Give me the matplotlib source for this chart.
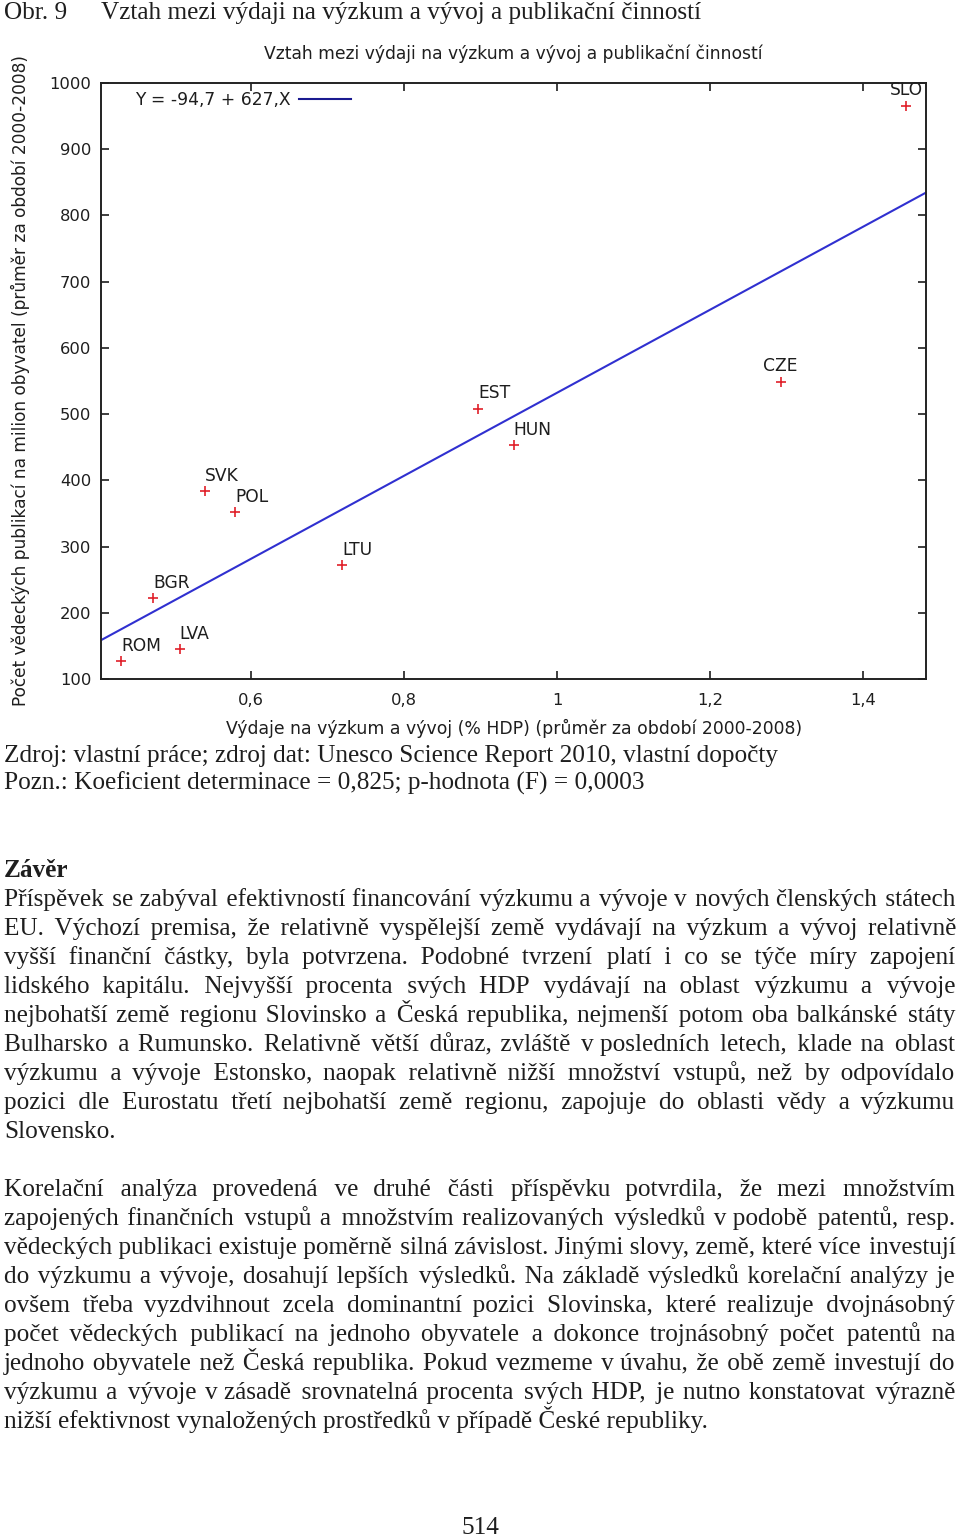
import numpy as np
import matplotlib
matplotlib.use('Agg')
import matplotlib.pyplot as plt
import matplotlib.transforms as mtransforms
from matplotlib.ticker import FixedLocator, FuncFormatter

W, H = 960, 1537

# data
countries = ['ROM', 'BGR', 'LVA', 'SVK', 'POL', 'LTU', 'EST', 'HUN', 'CZE', 'SLO']
rd_spend = [0.430, 0.472, 0.507, 0.540, 0.579, 0.719, 0.897, 0.943, 1.292, 1.456]
publications = [127, 222, 145, 384, 352, 272, 508, 453, 549, 966]
label_align = ['left', 'left', 'left', 'left', 'left', 'left', 'left', 'left', 'center', 'center']
intercept = -94.7
slope = 627.0
x_ticks = [0.6, 0.8, 1.0, 1.2, 1.4]
y_ticks = [100, 200, 300, 400, 500, 600, 700, 800, 900, 1000]

chart_title = 'Vztah mezi výdaji na výzkum a vývoj a publikační činností'
x_label = 'Výdaje na výzkum a vývoj (% HDP) (průměr za období 2000-2008)'
y_label = 'Počet vědeckých publikací na milion obyvatel (průměr za období 2000-2008)'

fig_no = 'Obr. 9'
fig_caption = 'Vztah mezi výdaji na výzkum a vývoj a publikační činností'
source = 'Zdroj: vlastní práce; zdroj dat: Unesco Science Report 2010, vlastní dopočty'
note = 'Pozn.: Koeficient determinace = 0,825; p-hodnota (F) = 0,0003'
heading = 'Závěr'
para1 = [
    'Příspěvek se zabýval efektivností financování výzkumu a vývoje v nových členských státech',
    'EU. Výchozí premisa, že relativně vyspělejší země vydávají na výzkum a vývoj relativně',
    'vyšší finanční částky, byla potvrzena. Podobné tvrzení platí i co se týče míry zapojení',
    'lidského kapitálu. Nejvyšší procenta svých HDP vydávají na oblast výzkumu a vývoje',
    'nejbohatší země regionu Slovinsko a Česká republika, nejmenší potom oba balkánské státy',
    'Bulharsko a Rumunsko. Relativně větší důraz, zvláště v\u00a0posledních letech, klade na oblast',
    'výzkumu a vývoje Estonsko, naopak relativně nižší množství vstupů, než by odpovídalo',
    'pozici dle Eurostatu třetí nejbohatší země regionu, zapojuje do oblasti vědy a výzkumu',
    'Slovensko.',
]
para2 = [
    'Korelační analýza provedená ve druhé části příspěvku potvrdila, že mezi množstvím',
    'zapojených finančních vstupů a množstvím realizovaných výsledků v\u00a0podobě patentů, resp.',
    'vědeckých publikaci existuje poměrně silná závislost. Jinými slovy, země, které více investují',
    'do výzkumu a vývoje, dosahují lepších výsledků. Na základě výsledků korelační analýzy je',
    'ovšem třeba vyzdvihnout zcela dominantní pozici Slovinska, které realizuje dvojnásobný',
    'počet vědeckých publikací na jednoho obyvatele a dokonce trojnásobný počet patentů na',
    'jednoho obyvatele než Česká republika. Pokud vezmeme v\u00a0úvahu, že obě země investují do',
    'výzkumu a vývoje v\u00a0zásadě srovnatelná procenta svých HDP, je nutno konstatovat výrazně',
    'nižší efektivnost vynaložených prostředků v\u00a0případě České republiky.',
]
page_no = '514'

fig = plt.figure(figsize=(W / 100, H / 100), dpi=100)
fig.patch.set_facecolor('white')
renderer = fig.canvas.get_renderer()
px = mtransforms.IdentityTransform()

SERIF = ['Liberation Serif', 'DejaVu Serif']
SANS = 'DejaVu Sans'
INK = '#1e1e1e'


def put(s, x, y, size, family=SERIF, **kw):
    kw.setdefault('ha', 'left')
    kw.setdefault('va', 'baseline')
    return fig.text(x, H - y, s, transform=px, fontsize=size, family=family,
                    color=INK, **kw)


def text_w(s, size, family):
    t = fig.text(0, 0, s, fontsize=size, family=family)
    w = t.get_window_extent(renderer).width
    t.remove()
    return w


def fit_size(s, target, family, horizontal=True):
    t = fig.text(0, 0, s, fontsize=10, family=family)
    bb = t.get_window_extent(renderer)
    t.remove()
    return 10 * target / (bb.width if horizontal else bb.height)


# ---- chart ----
ax = fig.add_axes([101 / W, 1 - 679 / H, 825 / W, 596 / H])
ax.set_xlim(0.404, 1.482)
ax.set_ylim(100, 1000)

eq = ('Y = %.1f + %.0f,X' % (intercept, slope)).replace('.', ',')
ax.axline((0, intercept), slope=slope, color='#3030d0', lw=1.5, label=eq)
ax.plot(rd_spend, publications, ls='none', marker='+', ms=7, mew=1.2, color='#e0202a')
for name, xv, yv, al in zip(countries, rd_spend, publications, label_align):
    ax.annotate(name, (xv, yv), xytext=(0, 7.5), textcoords='offset points',
                ha=al, va='baseline', fontsize=12.3, family=SANS, color=INK)

ax.xaxis.set_major_locator(FixedLocator(x_ticks))
ax.yaxis.set_major_locator(FixedLocator(y_ticks))
comma = FuncFormatter(lambda v, p: ('%g' % v).replace('.', ','))
ax.xaxis.set_major_formatter(comma)
ax.yaxis.set_major_formatter(comma)
ax.tick_params(direction='in', top=True, right=True, length=6, width=1.2,
               labelsize=11.8, colors=INK)
ax.tick_params(axis='x', pad=10)
ax.tick_params(axis='y', pad=7)
for lab in ax.get_xticklabels() + ax.get_yticklabels():
    lab.set_family(SANS)
for sp in ax.spines.values():
    sp.set_linewidth(1.4)
    sp.set_color('#222222')

leg = ax.legend(loc='center left', bbox_to_anchor=((135 - 101) / 825, (679 - 100) / 596),
                frameon=False, markerfirst=False, handlelength=3.05, handletextpad=0.5,
                borderpad=0, borderaxespad=0, prop={'family': SANS, 'size': 12.3})
for t in leg.get_texts():
    t.set_color(INK)
leg.legend_handles[0].set_color('#1a1a90')

put(chart_title, 513, 59, fit_size(chart_title, 500, SANS), family=SANS, ha='center')
put(x_label, 514, 734, fit_size(x_label, 576, SANS), family=SANS, ha='center')
fig.text(20, H - 381, y_label, transform=px, rotation=90, ha='center', va='center',
         fontsize=fit_size(y_label, 652, SANS), family=SANS, color=INK)

# ---- page text ----
body = fit_size(para2[-1], 703, SERIF)
X0, X1 = 4, 955
LS = 29
HAIR = '\u200a'
hair_w = (text_w('x' + HAIR * 40 + 'x', body, SERIF) - text_w('xx', body, SERIF)) / 40


def justify(line, y, last=False):
    # one Text per line, gaps widened with hair spaces
    if last or hair_w <= 0:
        put(line, X0, y, body)
        return
    words = line.split(' ')
    extra = (X1 - X0) - text_w(line, body, SERIF)
    per = extra / (len(words) - 1) / hair_w
    s = words[0]
    acc = 0.0
    for w in words[1:]:
        acc += per
        k = int(round(acc))
        acc -= k
        s += ' ' + HAIR * max(k, 0) + w
    put(s, X0, y, body)


put(fig_no, 4, 19, body)
put(fig_caption, 101, 19, body)
put(source, 4, 762, body)
put(note, 4, 790, body)
put(heading, 4, 877, body, weight='bold')

for i, line in enumerate(para1):
    justify(line, 906 + i * LS, last=(i == len(para1) - 1))
for i, line in enumerate(para2):
    justify(line, 1196 + i * LS, last=(i == len(para2) - 1))

put(page_no, 480, 1534, body, ha='center')

fig.savefig('out.png', dpi=100, facecolor='white')
